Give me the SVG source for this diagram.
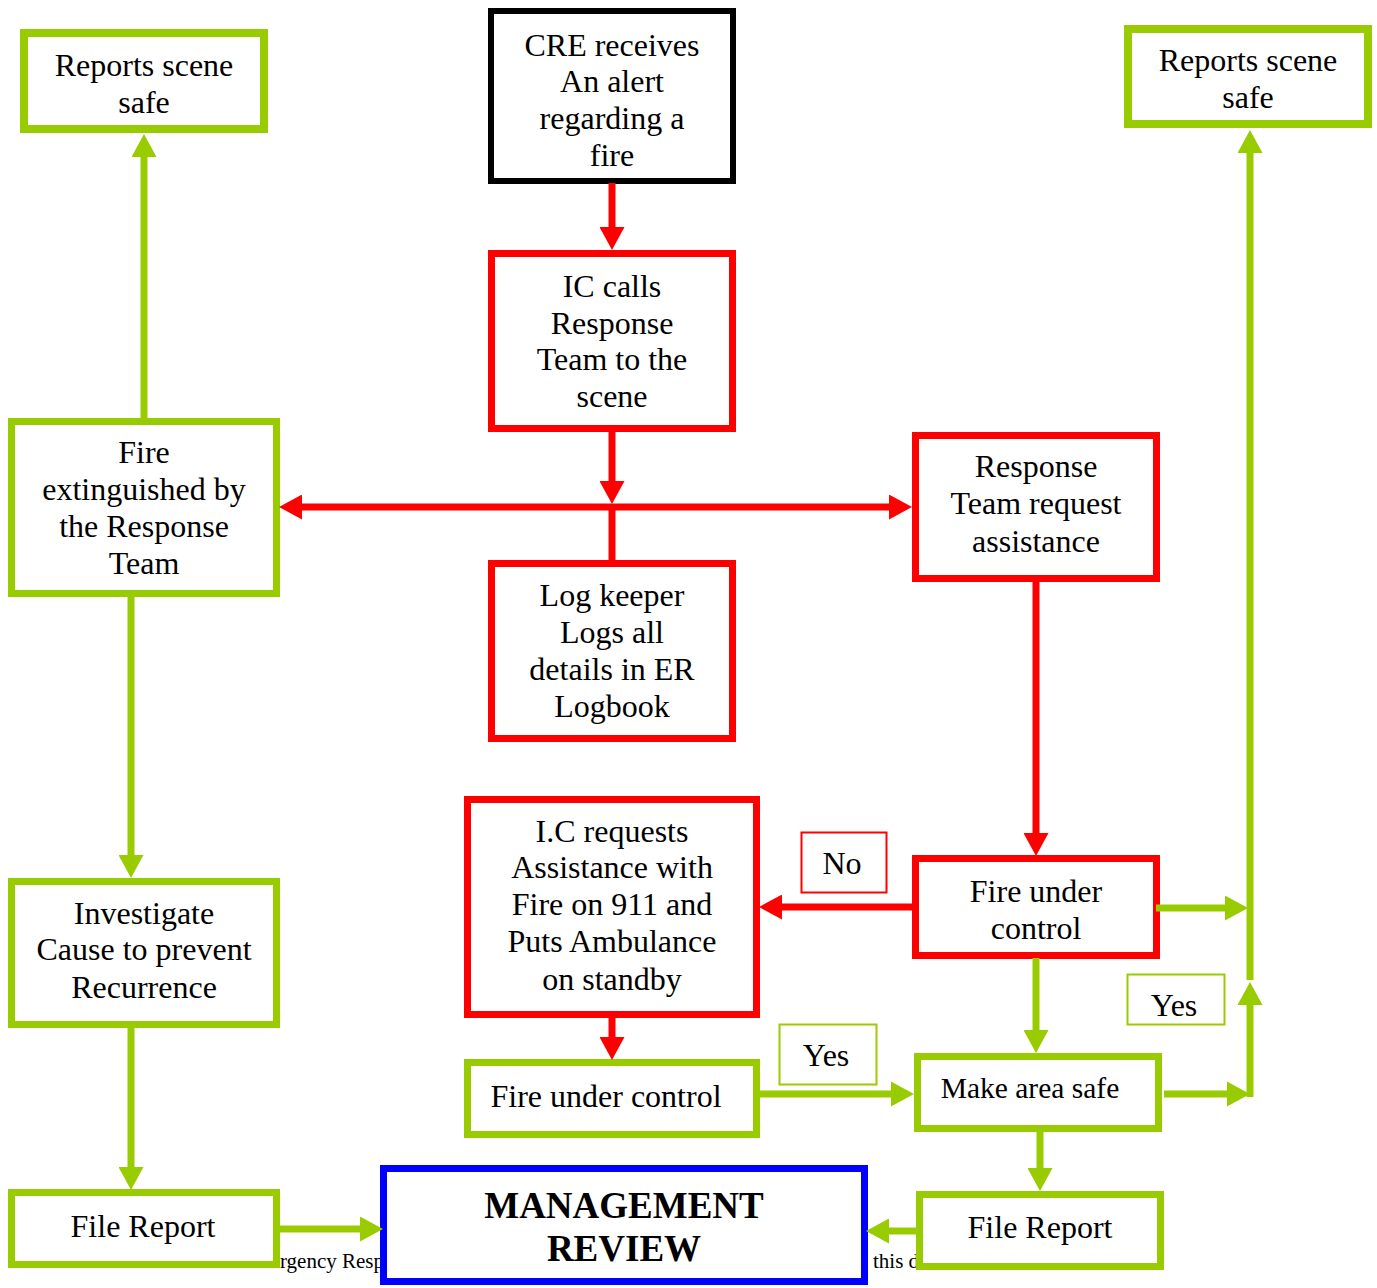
<svg xmlns="http://www.w3.org/2000/svg" width="1377" height="1288" viewBox="0 0 1377 1288">
  <style>
    .box { fill: #ffffff; stroke-width: 7; }
    .green { stroke: #99cc00; }
    .red { stroke: #ff0000; }
    .black { stroke: #000000; stroke-width: 6; }
    .blue { stroke: #0000ff; }
    .tag { fill: #ffffff; stroke-width: 2; }
    .t { font-family: "Liberation Serif", "Times New Roman", serif; font-size: 32px; fill: #000000; text-anchor: middle; }
    .mid { font-size: 29.5px; }
    .bold { font-weight: bold; font-size: 37px; }
    .foot { font-family: "Liberation Serif", "Times New Roman", serif; font-size: 21px; fill: #000000; }
    .lg { stroke: #99cc00; stroke-width: 7; fill: none; }
    .lr { stroke: #ff0000; stroke-width: 7; fill: none; }
    .ag { marker-end: url(#headG); }
    .ar { marker-end: url(#headR); }
  </style>
  <defs>
    <marker id="headG" viewBox="0 0 23 25" refX="0" refY="12.5" markerWidth="23" markerHeight="25" markerUnits="userSpaceOnUse" orient="auto">
      <path d="M0,0 L23,12.5 L0,25 Z" fill="#99cc00"/>
    </marker>
    <marker id="headR" viewBox="0 0 23 25" refX="0" refY="12.5" markerWidth="23" markerHeight="25" markerUnits="userSpaceOnUse" orient="auto-start-reverse">
      <path d="M0,0 L23,12.5 L0,25 Z" fill="#ff0000"/>
    </marker>
  </defs>

  <!-- footer line partly hidden behind the bottom boxes -->
  <g id="footer">
    <text class="foot" x="280" y="1268">rgency Resp</text>
    <text class="foot" x="873" y="1268">this d</text>
  </g>

  <g id="nodes">
    <g id="reports-safe-left">
      <rect class="box green" x="24" y="33" width="240" height="96" style="stroke-width:8"/>
      <text class="t" x="144" y="76">Reports scene</text>
      <text class="t" x="144" y="113">safe</text>
    </g>
    <g id="cre-alert">
      <rect class="box black" x="491" y="11" width="242" height="170"/>
      <text class="t" x="612" y="56">CRE receives</text>
      <text class="t" x="612" y="92">An alert</text>
      <text class="t" x="612" y="129">regarding a</text>
      <text class="t" x="612" y="166">fire</text>
    </g>
    <g id="ic-calls">
      <rect class="box red" x="491.5" y="253.5" width="241" height="175"/>
      <text class="t" x="612" y="297">IC calls</text>
      <text class="t" x="612" y="334">Response</text>
      <text class="t" x="612" y="370">Team to the</text>
      <text class="t" x="612" y="407">scene</text>
    </g>
    <g id="team-request">
      <rect class="box red" x="915.5" y="435.5" width="241" height="143"/>
      <text class="t" x="1036" y="477">Response</text>
      <text class="t" x="1036" y="514">Team request</text>
      <text class="t" x="1036" y="552">assistance</text>
    </g>
    <g id="fire-extinguished">
      <rect class="box green" x="11.5" y="421.5" width="265" height="172"/>
      <text class="t" x="144" y="463">Fire</text>
      <text class="t" x="144" y="500">extinguished by</text>
      <text class="t" x="144" y="537">the Response</text>
      <text class="t" x="144" y="574">Team</text>
    </g>
    <g id="log-keeper">
      <rect class="box red" x="491.5" y="563.5" width="241" height="175"/>
      <text class="t" x="612" y="606">Log keeper</text>
      <text class="t" x="612" y="643">Logs all</text>
      <text class="t" x="612" y="680">details in ER</text>
      <text class="t" x="612" y="717">Logbook</text>
    </g>
    <g id="reports-safe-right">
      <rect class="box green" x="1128" y="29" width="240" height="95" style="stroke-width:8"/>
      <text class="t" x="1248" y="71">Reports scene</text>
      <text class="t" x="1248" y="108">safe</text>
    </g>
    <g id="ic-requests">
      <rect class="box red" x="467.5" y="799.5" width="289" height="215"/>
      <text class="t" x="612" y="842">I.C requests</text>
      <text class="t" x="612" y="878">Assistance with</text>
      <text class="t" x="612" y="915">Fire on 911 and</text>
      <text class="t" x="612" y="952">Puts Ambulance</text>
      <text class="t" x="612" y="990">on standby</text>
    </g>
    <g id="fire-under-control-red">
      <rect class="box red" x="915.5" y="858.5" width="241" height="97"/>
      <text class="t" x="1036" y="902">Fire under</text>
      <text class="t" x="1036" y="939">control</text>
    </g>
    <g id="investigate">
      <rect class="box green" x="11.5" y="881.5" width="265" height="143"/>
      <text class="t" x="144" y="924">Investigate</text>
      <text class="t" x="144" y="960">Cause to prevent</text>
      <text class="t" x="144" y="998">Recurrence</text>
    </g>
    <g id="fire-under-control-green">
      <rect class="box green" x="467.5" y="1062.5" width="289" height="72"/>
      <text class="t" x="606" y="1107">Fire under control</text>
    </g>
    <g id="make-area-safe">
      <rect class="box green" x="917.5" y="1056.5" width="241" height="72"/>
      <text class="t mid" x="1030" y="1098">Make area safe</text>
    </g>
    <g id="file-report-left">
      <rect class="box green" x="11.5" y="1192.5" width="265" height="72"/>
      <text class="t" x="143" y="1237">File Report</text>
    </g>
    <g id="management-review">
      <rect class="box blue" x="383.5" y="1168.5" width="481" height="113"/>
      <text class="t bold" x="624" y="1218">MANAGEMENT</text>
      <text class="t bold" x="624" y="1261">REVIEW</text>
    </g>
    <g id="file-report-right">
      <rect class="box green" x="919.5" y="1194.5" width="241" height="72"/>
      <text class="t" x="1040" y="1238">File Report</text>
    </g>
    <g id="label-no">
      <rect class="tag red" x="801.5" y="832.5" width="85" height="60"/>
      <text class="t" x="842" y="874">No</text>
    </g>
    <g id="label-yes-1">
      <rect class="tag green" x="779.5" y="1024.5" width="97" height="60"/>
      <text class="t" x="826" y="1066">Yes</text>
    </g>
    <g id="label-yes-2">
      <rect class="tag green" x="1127.5" y="974.5" width="97" height="50"/>
      <text class="t" x="1174" y="1016">Yes</text>
    </g>
  </g>

  <g id="connectors">
    <!-- red flow -->
    <line class="lr ar" x1="612" y1="183" x2="612" y2="227"/>
    <line class="lr ar" x1="612" y1="432" x2="612" y2="481"/>
    <line class="lr" x1="612" y1="507" x2="612" y2="561"/>
    <line class="lr ar" x1="302" y1="507" x2="889" y2="507" style="marker-start:url(#headR)"/>
    <line class="lr ar" x1="1036" y1="581" x2="1036" y2="833"/>
    <line class="lr ar" x1="912" y1="907" x2="782" y2="907"/>
    <line class="lr ar" x1="612" y1="1017" x2="612" y2="1037"/>
    <!-- green flow -->
    <line class="lg ag" x1="144" y1="418" x2="144" y2="157"/>
    <line class="lg ag" x1="131" y1="596" x2="131" y2="855"/>
    <line class="lg ag" x1="131" y1="1028" x2="131" y2="1167"/>
    <line class="lg ag" x1="279" y1="1229" x2="360" y2="1229"/>
    <line class="lg ag" x1="759" y1="1094" x2="891" y2="1094"/>
    <line class="lg ag" x1="1036" y1="958" x2="1036" y2="1030"/>
    <line class="lg ag" x1="1156" y1="908" x2="1225" y2="908"/>
    <line class="lg ag" x1="1250" y1="980" x2="1250" y2="153"/>
    <line class="lg ag" x1="1164" y1="1094" x2="1227" y2="1094"/>
    <line class="lg ag" x1="1250" y1="1097" x2="1250" y2="1005"/>
    <line class="lg ag" x1="1040" y1="1132" x2="1040" y2="1168"/>
    <line class="lg ag" x1="917" y1="1231" x2="889" y2="1231"/>
  </g>
</svg>
